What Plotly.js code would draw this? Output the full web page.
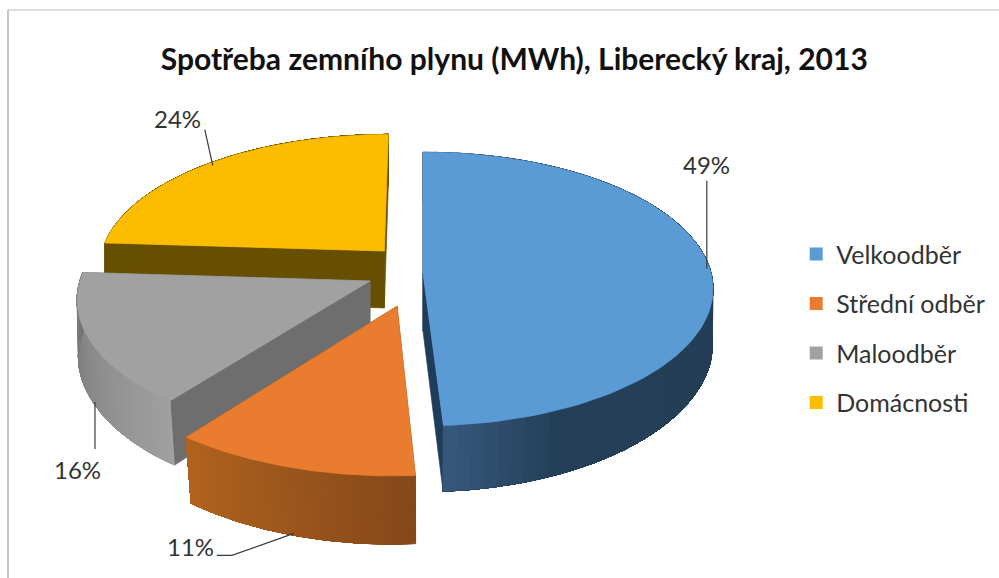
<!DOCTYPE html>
<html>
<head>
<meta charset="utf-8">
<script src="https://cdn.plot.ly/plotly-3.0.1.min.js"></script>
<style>html,body{margin:0;padding:0;background:#fff}#chart{width:999px;height:578px}</style>
</head>
<body>
<div id="chart"></div>
<script>
// --- data ---
var categories = ['Velkoodběr', 'Střední odběr', 'Maloodběr', 'Domácnosti'];
var shares = [49, 11.4, 15.6, 24];
var chartTitle = 'Spotřeba zemního plynu (MWh), Liberecký kraj, 2013';

// --- styling ---
var topColors = ['#5b9bd5', '#ea7c30', '#a1a1a1', '#fcbd00'];
var cutColors = ['#1f3d5a', '#7a4118', '#6e6e6e', '#665000'];
var rimStops = [
  [[0, '#223c54'], [0.88, '#243f57'], [1, '#36597c']],
  [[0, '#84481a'], [1, '#b2631f']],
  [[0, '#a0a0a0'], [1, '#737373']],
  [[0, '#665000'], [1, '#665000']]
];
var explode = [0, 0.25, 0.19, 0.2];
var nudge = [[0, 0], [-0.015, 0], [-0.01, -0.02], [0, -0.02]];
var sliceScale = [1, 1.04, 1, 1];
var paintOrder = [3, 2, 0, 1];

// --- 3D pie projection onto pixel-ranged axes ---
var cx = 423, cy = 273, R = 288, tilt = 135, camera = 8.57, depth = 58, bottomShrink = 0.02;
var toRad = Math.PI / 180;

function project(X, Z, lower) {
  var s = 1 / (1 - Z / camera);
  var k = lower ? 1 - bottomShrink * Math.max(0, Z) : 1;
  return [cx + X * R * s * k,
          cy + tilt * Z * s + (lower ? depth * s : 0)];
}
function hex2rgb(h) { return [1, 3, 5].map(function (i) { return parseInt(h.substr(i, 2), 16); }); }
function stopColor(stops, t) {
  for (var i = 1; i < stops.length; i++) {
    if (t <= stops[i][0]) {
      var a = stops[i - 1], b = stops[i], f = (t - a[0]) / (b[0] - a[0]);
      var ca = hex2rgb(a[1]), cb = hex2rgb(b[1]);
      return 'rgb(' + ca.map(function (v, k) { return Math.round(v + (cb[k] - v) * f); }).join(',') + ')';
    }
  }
  return stops[stops.length - 1][1];
}
function polygon(points, color) {
  var xs = points.map(function (p) { return p[0]; });
  var ys = points.map(function (p) { return p[1]; });
  xs.push(xs[0]); ys.push(ys[0]);
  return { type: 'scatter', mode: 'lines', x: xs, y: ys, fill: 'toself', fillcolor: color,
           line: { color: color, width: 0.7 }, hoverinfo: 'skip', showlegend: false };
}

var total = shares.reduce(function (a, b) { return a + b; }, 0);
var slices = [], running = 0;
shares.forEach(function (v, i) {
  var a0 = running / total * 360, a1 = (running + v) / total * 360, mid = (a0 + a1) / 2;
  running += v;
  slices.push({ a0: a0, a1: a1, mid: mid, scale: sliceScale[i],
    ox: explode[i] * Math.sin(mid * toRad) + nudge[i][0],
    oz: -explode[i] * Math.cos(mid * toRad) + nudge[i][1] });
});
function rimPoint(sl, deg, lower) {
  return project(sl.ox + sl.scale * Math.sin(deg * toRad), sl.oz - sl.scale * Math.cos(deg * toRad), lower);
}

var traces = [];
paintOrder.forEach(function (i) {
  var sl = slices[i], apexT = project(sl.ox, sl.oz, false), apexB = project(sl.ox, sl.oz, true);
  // radial cut walls
  traces.push(polygon([apexT, rimPoint(sl, sl.a0, false), rimPoint(sl, sl.a0, true), apexB], cutColors[i]));
  traces.push(polygon([apexT, rimPoint(sl, sl.a1, false), rimPoint(sl, sl.a1, true), apexB], cutColors[i]));
  // outer rim, shaded in strips; each strip is painted through to the slice end so no seams show
  var strips = 72;
  for (var k = 0; k < strips; k++) {
    var outline = [], back = [];
    for (var q = k; q <= strips; q++) {
      var deg = sl.a0 + (sl.a1 - sl.a0) * q / strips;
      outline.push(rimPoint(sl, deg, false));
      back.unshift(rimPoint(sl, deg, true));
    }
    traces.push(polygon(outline.concat(back), stopColor(rimStops[i], (k + 0.5) / strips)));
  }
  // top face
  var face = [apexT];
  for (var n = 0; n <= 90; n++) face.push(rimPoint(sl, sl.a0 + (sl.a1 - sl.a0) * n / 90, false));
  traces.push(polygon(face, topColors[i]));
});

// leader lines start on the rim at each slice's mid angle
var leaderLower = [false, true, true, false];
var leaderHead = [[-3, 0], [-1, -2], [2, 0], [4, 2]];
var leaderTail = [[[0, -88]], [[-62, 22], [-77, 22]], [[0, 47]], [[-8, -36]]];
var labelPos = [[706, 164], [190, 546], [77, 469], [177, 118]];
var annotations = [];
slices.forEach(function (sl, i) {
  var rim = rimPoint(sl, sl.mid, leaderLower[i]);
  var start = [rim[0] + leaderHead[i][0], rim[1] + leaderHead[i][1]];
  var xs = [start[0]], ys = [start[1]];
  leaderTail[i].forEach(function (t) { xs.push(start[0] + t[0]); ys.push(start[1] + t[1]); });
  traces.push({ type: 'scatter', mode: 'lines', x: xs, y: ys, line: { color: '#3a3a3a', width: 1.2 },
                hoverinfo: 'skip', showlegend: false });
  annotations.push({ x: labelPos[i][0], y: labelPos[i][1], xref: 'x', yref: 'y', showarrow: false,
    text: Math.round(shares[i]) + '%', font: { family: 'Lato, Carlito, sans-serif', size: 24, color: '#333333' } });
});

// legend entries
categories.forEach(function (c, i) {
  traces.push({ type: 'scatter', mode: 'markers', name: c, x: [-50], y: [-50], legendgroup: c,
                marker: { symbol: 'square', size: 13, color: topColors[i] }, hoverinfo: 'skip' });
});

var layout = {
  width: 999, height: 578, margin: { l: 0, r: 0, t: 0, b: 0 },
  paper_bgcolor: '#ffffff', plot_bgcolor: '#ffffff',
  title: { text: '<b>' + chartTitle + '</b>', x: 0.5148, xanchor: 'center', y: 0.897, yanchor: 'middle',
           font: { family: 'Lato, Carlito, sans-serif', size: 30, color: '#111111' } },
  xaxis: { range: [0, 999], visible: false, fixedrange: true },
  yaxis: { range: [578, 0], visible: false, fixedrange: true },
  legend: { x: 0.797, xanchor: 'left', y: 0.6, yanchor: 'top', tracegroupgap: 14,
            font: { family: 'Lato, Carlito, sans-serif', size: 25, color: '#333333' },
            bgcolor: 'rgba(0,0,0,0)' },
  annotations: annotations,
  shapes: [
    { type: 'line', xref: 'x', yref: 'y', x0: 8, x1: 999, y0: 10, y1: 10, line: { color: '#d4d4d4', width: 1.5 } },
    { type: 'line', xref: 'x', yref: 'y', x0: 8, x1: 8, y0: 10, y1: 578, line: { color: '#b5b5b5', width: 1.5 } }
  ]
};
Plotly.newPlot('chart', traces, layout, { displayModeBar: false, staticPlot: true });
</script>
</body>
</html>
